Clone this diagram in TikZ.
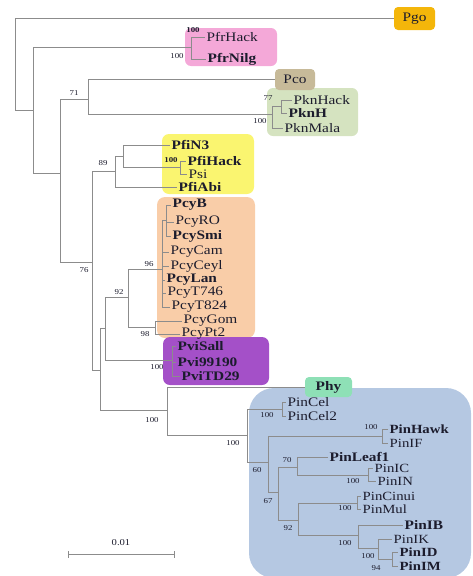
\documentclass[tikz,border=0pt]{standalone}
\usepackage{fontspec}
\setmainfont[FakeStretch=1.18]{Liberation Serif}
\definecolor{linegray}{RGB}{140,140,140}
\definecolor{txt}{RGB}{28,28,45}
\definecolor{cPgo}{RGB}{244,182,10}
\definecolor{cPfr}{RGB}{244,168,216}
\definecolor{cPco}{RGB}{199,186,153}
\definecolor{cPkn}{RGB}{213,227,192}
\definecolor{cPfi}{RGB}{250,245,112}
\definecolor{cPcy}{RGB}{249,205,168}
\definecolor{cPvi}{RGB}{164,80,200}
\definecolor{cPhy}{RGB}{142,224,182}
\definecolor{cPin}{RGB}{181,200,226}
\begin{document}
\begin{tikzpicture}[x=1pt,y=-1pt,
  br/.style={draw=linegray, line width=0.7pt},
  leaf/.style={anchor=west, inner xsep=1.5pt, inner ysep=0pt, text=txt, font=\fontsize{13}{13}\selectfont},
  bleaf/.style={leaf, font=\fontsize{13}{13}\selectfont\bfseries},
  sleaf/.style={leaf, font=\fontsize{12.5}{12.5}\selectfont},
  sbleaf/.style={leaf, font=\fontsize{12.5}{12.5}\selectfont\bfseries},
  bs/.style={inner sep=0pt, text=txt, font=\fontsize{7.5}{7.5}\selectfont},
  bsb/.style={bs, font=\fontsize{7.5}{7.5}\selectfont\bfseries},
  tagbox/.style={inner sep=0pt, text=txt, font=\fontsize{13}{13}\selectfont}]
\useasboundingbox (0,0) rectangle (473,576);

% clade backgrounds
\fill[cPin, rounded corners=25pt] (249,388) rectangle (471,578);
\fill[cPfr, rounded corners=6pt] (185,28) rectangle (277,66);
\fill[cPkn, rounded corners=6pt] (267,88) rectangle (358,136);
\fill[cPfi, rounded corners=7pt] (162,134) rectangle (254,194);
\fill[cPcy, rounded corners=8pt] (157,197) rectangle (255,338);
\fill[cPvi, rounded corners=7pt] (163,337) rectangle (269,385);

% tagged single-taxon boxes
\node[tagbox, fill=cPgo, rounded corners=4pt, minimum width=41pt, minimum height=23pt] (Pgo) at (414.5,18.5) {Pgo};
\node[tagbox, fill=cPco, rounded corners=4pt, minimum width=40pt, minimum height=21pt] (Pco) at (295,79.5) {Pco};
\node[tagbox, fill=cPhy, rounded corners=4pt, minimum width=47pt, minimum height=20pt, font=\fontsize{13}{13}\selectfont\bfseries] (Phy) at (328.5,387) {Phy};

% internal nodes
\coordinate (R) at (15,63);
\coordinate (A) at (33,110);
\coordinate (Pfr) at (191,47);
\coordinate (B) at (60,173);
\coordinate (D) at (88,99);
\coordinate (Pkno) at (272,114);
\coordinate (Pkni) at (281,106);
\coordinate (C) at (92,262);
\coordinate (Pfi) at (115,171);
\coordinate (Pfii) at (123,156);
\coordinate (PfiHP) at (180,167);
\coordinate (H) at (100,370);
\coordinate (I) at (105,328);
\coordinate (K) at (128,297);
\coordinate (Pcym) at (162,269);
\coordinate (Pcys) at (166,220);
\coordinate (PcyGP) at (155,327);
\coordinate (Pvi) at (172,360);
\coordinate (J) at (167,410);
\coordinate (E) at (247,435);
\coordinate (PinCelN) at (282,409);
\coordinate (F) at (268,462);
\coordinate (Hawk) at (382,436);
\coordinate (G) at (278,492);
\coordinate (N70) at (297,467);
\coordinate (ICIN) at (368,475);
\coordinate (N92) at (298,520);
\coordinate (CM) at (357,503);
\coordinate (N100) at (358,535);
\coordinate (S1) at (378,548);
\coordinate (S2) at (392,559);

% leaves
\node[leaf]  (PfrHack) at (205,37) {PfrHack};
\node[bleaf] (PfrNilg) at (206,59) {PfrNilg};
\node[leaf]  (PknHack) at (292,100) {PknHack};
\node[bleaf] (PknH) at (287,113) {PknH};
\node[leaf]  (PknMala) at (283,128) {PknMala};
\node[bleaf] (PfiN3) at (170,145) {PfiN3};
\node[bleaf] (PfiHack) at (186,161) {PfiHack};
\node[leaf]  (Psi) at (187,174) {Psi};
\node[bleaf] (PfiAbi) at (177,187) {PfiAbi};
\node[bleaf] (PcyB) at (171,205) {PcyB};
\node[leaf]  (PcyRO) at (174,222) {PcyRO};
\node[bleaf] (PcySmi) at (171,236) {PcySmi};
\node[leaf]  (PcyCam) at (169,252) {PcyCam};
\node[leaf]  (PcyCeyl) at (169,266) {PcyCeyl};
\node[bleaf] (PcyLan) at (165,280) {PcyLan};
\node[leaf]  (PcyT746) at (166,293) {PcyT746};
\node[leaf]  (PcyT824) at (170,307) {PcyT824};
\node[leaf]  (PcyGom) at (182,321) {PcyGom};
\node[leaf]  (PcyPt2) at (180,334) {PcyPt2};
\node[bleaf] (PviSall) at (176,346) {PviSall};
\node[bleaf] (Pvi99190) at (176,362) {Pvi99190};
\node[bleaf] (PviTD29) at (180,376) {PviTD29};
\node[leaf]  (PinCel) at (286,402) {PinCel};
\node[leaf]  (PinCel2) at (286,416) {PinCel2};
\node[sbleaf] (PinHawk) at (388,429.5) {PinHawk};
\node[sleaf]  (PinIF) at (388,443) {PinIF};
\node[bleaf] (PinLeaf1) at (328,457) {PinLeaf1};
\node[sleaf]  (PinIC) at (373,468.5) {PinIC};
\node[sleaf]  (PinIN) at (376,481.5) {PinIN};
\node[sleaf]  (PinCinui) at (361,496.5) {PinCinui};
\node[sleaf]  (PinMul) at (361,509.5) {PinMul};
\node[bleaf] (PinIB) at (403,525.5) {PinIB};
\node[sleaf]  (PinIK) at (392,539) {PinIK};
\node[sbleaf] (PinID) at (398,552.5) {PinID};
\node[sbleaf] (PinIM) at (398,566) {PinIM};

% branches
\draw[br] (R) |- (Pgo.west);
\draw[br] (R) |- (A);
\draw[br] (A) |- (Pfr);
\draw[br] (A) |- (B);
\draw[br] (Pfr) |- (PfrHack.west);
\draw[br] (Pfr) |- (PfrNilg.west);
\draw[br] (B) |- (D);
\draw[br] (B) |- (C);
\draw[br] (D) |- (Pco.west);
\draw[br] (D) |- (Pkno);
\draw[br] (Pkno) |- (Pkni);
\draw[br] (Pkno) |- (PknMala.west);
\draw[br] (Pkni) |- (PknHack.west);
\draw[br] (Pkni) |- (PknH.west);
\draw[br] (C) |- (Pfi);
\draw[br] (C) |- (H);
\draw[br] (Pfi) |- (Pfii);
\draw[br] (Pfi) |- (PfiAbi.west);
\draw[br] (Pfii) |- (PfiN3.west);
\draw[br] (Pfii) |- (PfiHP);
\draw[br] (PfiHP) |- (PfiHack.west);
\draw[br] (PfiHP) |- (Psi.west);
\draw[br] (H) |- (I);
\draw[br] (H) |- (J);
\draw[br] (I) |- (K);
\draw[br] (I) |- (Pvi);
\draw[br] (K) |- (Pcym);
\draw[br] (K) |- (PcyGP);
\draw[br] (Pcym) |- (Pcys);
\draw[br] (Pcys) |- (PcyB.west);
\draw[br] (Pcys) |- (PcyRO.west);
\draw[br] (Pcys) |- (PcySmi.west);
\draw[br] (Pcym) |- (PcyCam.west);
\draw[br] (Pcym) |- (PcyCeyl.west);
\draw[br] (Pcym) |- (PcyLan.west);
\draw[br] (Pcym) |- (PcyT746.west);
\draw[br] (Pcym) |- (PcyT824.west);
\draw[br] (PcyGP) |- (PcyGom.west);
\draw[br] (PcyGP) |- (PcyPt2.west);
\draw[br] (Pvi) |- (PviSall.west);
\draw[br] (Pvi) |- (Pvi99190.west);
\draw[br] (Pvi) |- (PviTD29.west);
\draw[br] (J) |- (Phy.west);
\draw[br] (J) |- (E);
\draw[br] (E) |- (PinCelN);
\draw[br] (E) |- (F);
\draw[br] (PinCelN) |- (PinCel.west);
\draw[br] (PinCelN) |- (PinCel2.west);
\draw[br] (F) |- (Hawk);
\draw[br] (F) |- (G);
\draw[br] (Hawk) |- (PinHawk.west);
\draw[br] (Hawk) |- (PinIF.west);
\draw[br] (G) |- (N70);
\draw[br] (G) |- (N92);
\draw[br] (N70) |- (PinLeaf1.west);
\draw[br] (N70) |- (ICIN);
\draw[br] (ICIN) |- (PinIC.west);
\draw[br] (ICIN) |- (PinIN.west);
\draw[br] (N92) |- (CM);
\draw[br] (N92) |- (N100);
\draw[br] (CM) |- (PinCinui.west);
\draw[br] (CM) |- (PinMul.west);
\draw[br] (N100) |- (PinIB.west);
\draw[br] (N100) |- (S1);
\draw[br] (S1) |- (PinIK.west);
\draw[br] (S1) |- (S2);
\draw[br] (S2) |- (PinID.west);
\draw[br] (S2) |- (PinIM.west);

% bootstrap values
\node[bsb] (b1) at (193,30) {100};
\node[bs] (b2) at (177,56) {100};
\node[bs] (b3) at (74,93) {71};
\node[bs] (b4) at (268,98) {77};
\node[bs] (b5) at (260,121) {100};
\node[bs] (b6) at (103,163) {89};
\node[bsb] (b7) at (171,160) {100};
\node[bs] (b8) at (84,270) {76};
\node[bs] (b9) at (149,264) {96};
\node[bs] (b10) at (119,292) {92};
\node[bs] (b11) at (145,334) {98};
\node[bs] (b12) at (157,367) {100};
\node[bs] (b13) at (152,420) {100};
\node[bs] (b14) at (233,443) {100};
\node[bs] (b15) at (267,415) {100};
\node[bs] (b16) at (257,470) {60};
\node[bs] (b17) at (371,427) {100};
\node[bs] (b18) at (287,460) {70};
\node[bs] (b19) at (353,481) {100};
\node[bs] (b20) at (268,501) {67};
\node[bs] (b21) at (345,508) {100};
\node[bs] (b22) at (288,528) {92};
\node[bs] (b23) at (345,543) {100};
\node[bs] (b24) at (368,556) {100};
\node[bs] (b25) at (376,568) {94};

% scale bar
\coordinate (sbL) at (68,554);
\coordinate (sbR) at (174,554);
\draw[br] (sbL) -- (sbR);
\draw[br] ([yshift=-3.5pt]sbL) -- ([yshift=3.5pt]sbL);
\draw[br] ([yshift=-3.5pt]sbR) -- ([yshift=3.5pt]sbR);
\node[bs, font=\fontsize{9}{9}\selectfont] (sbt) at (121,543) {0.01};
\end{tikzpicture}
\end{document}
